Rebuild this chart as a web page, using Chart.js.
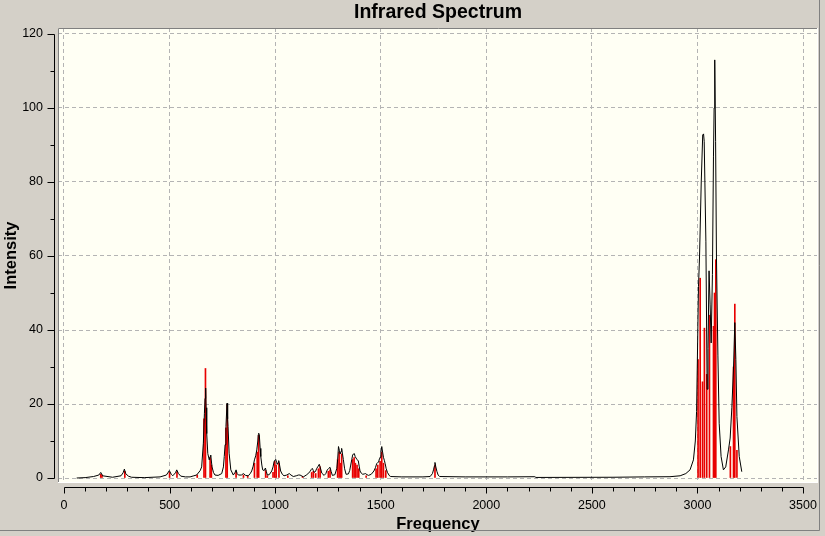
<!DOCTYPE html>
<html>
<head>
<meta charset="utf-8">
<title>Infrared Spectrum</title>
<script src="https://cdn.jsdelivr.net/npm/chart.js@4.4.1/dist/chart.umd.min.js"></script>
<style>
  html, body { margin: 0; padding: 0; background: #d4d0c8; }
  canvas { display: block; }
</style>
</head>
<body>
<canvas id="ir" width="825" height="536"></canvas>
<script>
// broadened spectrum (black curve)
const curveFreq = [
  60, 100, 140, 165, 174, 183, 230, 270, 280, 286, 292, 305, 320, 380, 455, 485, 499, 508, 515, 528,
  534, 542, 553, 575, 597, 615, 628, 645, 652, 660, 665, 668, 671, 673, 676, 681, 688, 692, 695, 701,
  708, 715, 730, 747, 755, 759, 763, 767, 772, 775, 777, 782, 790, 802, 810, 815, 820, 826, 840, 850,
  860, 873, 882, 889, 896, 902, 908, 913, 918, 920, 922, 925, 929, 932, 937, 941, 948, 954, 958, 963,
  972, 984, 990, 995, 1000, 1003, 1007, 1010, 1014, 1017, 1021, 1026, 1034, 1042, 1055, 1067, 1075, 1086, 1100, 1110,
  1118, 1134, 1150, 1165, 1171, 1176, 1181, 1186, 1192, 1197, 1204, 1209, 1214, 1221, 1232, 1240, 1247, 1254, 1260, 1265,
  1271, 1283, 1292, 1296, 1300, 1304, 1308, 1312, 1315, 1319, 1323, 1329, 1336, 1347, 1353, 1358, 1363, 1367, 1371, 1375,
  1379, 1383, 1388, 1394, 1398, 1402, 1408, 1415, 1422, 1428, 1435, 1442, 1455, 1468, 1475, 1481, 1486, 1490, 1494, 1497,
  1501, 1505, 1509, 1513, 1517, 1521, 1526, 1532, 1540, 1547, 1600, 1700, 1734, 1745, 1750, 1754, 1757, 1761, 1766, 1772,
  1779, 1900, 2100, 2230, 2235, 2600, 2750, 2870, 2918, 2945, 2965, 2981, 2990, 2996, 3005, 3010, 3018, 3025, 3029, 3032,
  3040, 3046, 3050, 3055, 3060, 3065, 3071, 3076, 3079, 3082, 3086, 3090, 3097, 3103, 3112, 3123, 3134, 3147, 3155, 3163,
  3171, 3177, 3182, 3187, 3198, 3210
];
const curveIntensity = [
  0.0, 0.1, 0.4, 0.8, 1.5, 0.6, 0.2, 0.6, 1.4, 2.4, 1.2, 0.5, 0.2, 0.1, 0.3, 0.8, 2.0, 1.0, 0.6, 1.4,
  2.2, 1.2, 0.5, 0.3, 0.3, 0.6, 0.8, 2.0, 3.0, 9.4, 17.5, 21.5, 24.3, 19, 12, 6.6, 4.9, 5.8, 6.2, 3.0,
  1.5, 0.8, 0.7, 1.2, 3.0, 5.8, 9, 13.9, 20.2, 16, 13.9, 6.7, 2.2, 0.8, 1.5, 2.2, 1.2, 0.8, 0.8, 1.2,
  0.7, 0.6, 1.2, 1.9, 3.2, 4.9, 6, 7.6, 10, 11.7, 12.1, 11.7, 8, 5.8, 3.5, 2.2, 2.0, 2.7, 1.8, 0.8,
  0.9, 1.9, 3.0, 4.4, 4.9, 5.0, 4.2, 3.7, 4.2, 4.7, 3.5, 1.9, 1.0, 0.6, 0.8, 1.2, 0.8, 0.4, 0.6, 0.8,
  0.8, 0.3, 0.9, 1.7, 2.3, 2.6, 2.0, 1.5, 1.9, 2.6, 3.2, 3.7, 2.8, 1.3, 0.7, 1.2, 2.2, 2.6, 2.9, 1.8,
  0.7, 0.9, 2.6, 5.0, 8.5, 7.5, 6.5, 7.2, 8.0, 6.5, 5.0, 2.5, 1.0, 1.1, 2.0, 3.5, 5.0, 6.2, 6.5, 6.6,
  5.8, 5.4, 5.0, 4.6, 3.2, 1.9, 1.3, 1.0, 1.1, 1.2, 0.9, 0.7, 1.0, 1.9, 2.8, 3.9, 4.2, 4.3, 5.2, 5.6,
  7.0, 8.5, 7.0, 5.6, 4.8, 3.9, 2.5, 1.5, 0.7, 0.4, 0.3, 0.3, 0.4, 1.2, 2.2, 3.2, 4.2, 3.0, 1.8, 0.8,
  0.4, 0.3, 0.3, 0.35, 0.15, 0.2, 0.3, 0.35, 0.6, 1.2, 2.2, 4.9, 10, 18, 51.7, 60, 80, 92.7, 93, 91,
  64, 24, 35, 56, 47, 36.5, 55, 87, 100, 113, 91, 60, 33, 14.8, 5.8, 2.2, 3.0, 7.6, 10.8, 19,
  30, 42, 32, 16.6, 5.8, 1.7
];

// individual modes (red sticks)
const stickFreq = [
  174, 180, 288, 500, 535, 631, 663, 670, 692, 698, 767, 773, 815, 850, 870, 902, 915, 922, 955, 963,
  990, 998, 1005, 1018, 1060, 1130, 1173, 1181, 1192, 1205, 1213, 1252, 1260, 1296, 1303, 1309, 1315, 1367, 1374, 1380,
  1388, 1396, 1431, 1478, 1486, 1497, 1505, 1513, 1524, 1757, 3003, 3013, 3024, 3033, 3044, 3057, 3076, 3081, 3087, 3156,
  3171, 3177, 3187
];
const stickIntensity = [
  1.0, 0.8, 1.8, 1.5, 1.7, 0.8, 16, 29.6, 5.5, 3.5, 13.5, 19.8, 1.5, 0.8, 0.5, 4, 7, 11.5, 2, 0.6,
  1.5, 4.5, 3.5, 4, 0.6, 0.4, 1.5, 1.8, 1.2, 2.5, 3, 1.8, 2.2, 5, 7, 4, 6.5, 5, 5.5, 4,
  3.5, 2.5, 0.6, 2.5, 3.5, 4.5, 7, 4, 2, 3.5, 32, 54, 26, 40.5, 28, 44, 41, 50, 59, 8.5,
  30, 47, 7.5
];

const xTicks = [0, 500, 1000, 1500, 2000, 2500, 3000, 3500];
const yTicks = [0, 20, 40, 60, 80, 100, 120];

const curvePoints = curveFreq.map((f, i) => ({ x: f, y: curveIntensity[i] }));
const stickPoints = stickFreq.map((f, i) => ({ x: f, y: stickIntensity[i] }));

const FONT = "'Liberation Sans', Arial, sans-serif";

// window-style frame, plot background and the offset axes with minor ticks
const framePlugin = {
  id: "frame",
  beforeDraw(chart) {
    const { ctx, chartArea: a } = chart;
    ctx.save();
    ctx.fillStyle = "#d4d0c8";
    ctx.fillRect(0, 0, chart.width, chart.height);
    ctx.fillStyle = "#fffff4";
    ctx.fillRect(a.left, a.top, a.right - a.left, a.bottom - a.top);
    ctx.restore();
  },
  afterDraw(chart) {
    const { ctx, chartArea: a } = chart;
    const xs = chart.scales.x;
    const ys = chart.scales.y;
    ctx.save();
    ctx.lineWidth = 1;

    // sunken border of the plot box
    ctx.strokeStyle = "#808080";
    ctx.beginPath();
    ctx.moveTo(a.left + 0.5, a.bottom);
    ctx.lineTo(a.left + 0.5, a.top + 0.5);
    ctx.lineTo(a.right, a.top + 0.5);
    ctx.stroke();
    ctx.strokeStyle = "#ffffff";
    ctx.beginPath();
    ctx.moveTo(a.left, a.bottom - 0.5);
    ctx.lineTo(a.right - 0.5, a.bottom - 0.5);
    ctx.lineTo(a.right - 0.5, a.top);
    ctx.stroke();

    // y axis
    ctx.strokeStyle = "#000";
    const ax = a.left - 3.5;
    const y0 = Math.round(ys.getPixelForValue(0)) + 0.5;
    const y1 = Math.round(ys.getPixelForValue(120)) + 0.5;
    ctx.beginPath();
    ctx.moveTo(ax, y1);
    ctx.lineTo(ax, y0);
    for (let v = 0; v <= 120; v += 10) {
      const py = Math.round(ys.getPixelForValue(v)) + 0.5;
      const len = v % 20 === 0 ? 7 : 4;
      ctx.moveTo(ax - len, py);
      ctx.lineTo(ax, py);
    }
    ctx.stroke();

    // x axis
    const ay = a.bottom + 4.5;
    const x0 = Math.round(xs.getPixelForValue(0)) + 0.5;
    const x1 = Math.round(xs.getPixelForValue(3500)) + 0.5;
    ctx.beginPath();
    ctx.moveTo(x0, ay);
    ctx.lineTo(x1, ay);
    for (let v = 0; v <= 3500; v += 100) {
      const px = Math.round(xs.getPixelForValue(v)) + 0.5;
      const len = v % 500 === 0 ? 6 : 4;
      ctx.moveTo(px, ay);
      ctx.lineTo(px, ay + len);
    }
    ctx.stroke();

    // panel edge
    ctx.strokeStyle = "#808080";
    ctx.beginPath();
    ctx.moveTo(819.5, 0);
    ctx.lineTo(819.5, 530.5);
    ctx.lineTo(0, 530.5);
    ctx.stroke();
    ctx.restore();
  }
};

new Chart(document.getElementById("ir"), {
  type: "line",
  data: {
    datasets: [
      {
        label: "Spectrum",
        data: curvePoints,
        borderColor: "#000",
        borderWidth: 1,
        pointRadius: 0,
        tension: 0,
        fill: false,
        order: 0
      },
      {
        type: "bar",
        label: "Modes",
        data: stickPoints,
        backgroundColor: "#e80000",
        borderWidth: 0,
        barThickness: 1,
        order: 1
      }
    ]
  },
  options: {
    responsive: false,
    devicePixelRatio: 1,
    animation: false,
    layout: { padding: { left: 0, right: 7, top: 0, bottom: 0 } },
    plugins: {
      legend: { display: false },
      tooltip: { enabled: false },
      title: {
        display: true,
        text: "Infrared Spectrum",
        color: "#000",
        fullSize: false,
        font: { family: FONT, size: 19.5, weight: "bold" },
        padding: { top: 0.5, bottom: 4.1 }
      }
    },
    scales: {
      x: {
        type: "linear",
        offset: false,
        min: -28.4,
        max: 3571,
        afterBuildTicks: (s) => { s.ticks = xTicks.map(v => ({ value: v })); },
        afterFit: (s) => { s.height = 53; s.paddingLeft = 0; s.paddingRight = 0; },
        grid: { color: "#b4b4b4", lineWidth: 1, drawTicks: false, offset: false },
        border: { display: false, dash: [4, 3] },
        ticks: {
          color: "#000",
          padding: 15,
          maxRotation: 0,
          autoSkip: false,
          font: { family: FONT, size: 12.5 },
          callback: (v) => String(v)
        },
        title: {
          display: true,
          text: "Frequency",
          color: "#000",
          font: { family: FONT, size: 16.5, weight: "bold" },
          padding: { top: 0, bottom: 2 }
        }
      },
      y: {
        type: "linear",
        min: -1.35,
        max: 121.62,
        afterBuildTicks: (s) => { s.ticks = yTicks.map(v => ({ value: v })); },
        afterFit: (s) => { s.width = 58; s.paddingTop = 0; s.paddingBottom = 0; },
        grid: { color: "#b4b4b4", lineWidth: 1, drawTicks: false },
        border: { display: false, dash: [4, 3] },
        ticks: {
          color: "#000",
          padding: 15,
          autoSkip: false,
          font: { family: FONT, size: 12.5 },
          callback: (v) => String(v)
        },
        title: {
          display: true,
          text: "Intensity",
          color: "#000",
          font: { family: FONT, size: 16.5, weight: "bold" },
          padding: { top: 2, bottom: 0 }
        }
      }
    }
  },
  plugins: [framePlugin]
});
</script>
</body>
</html>
